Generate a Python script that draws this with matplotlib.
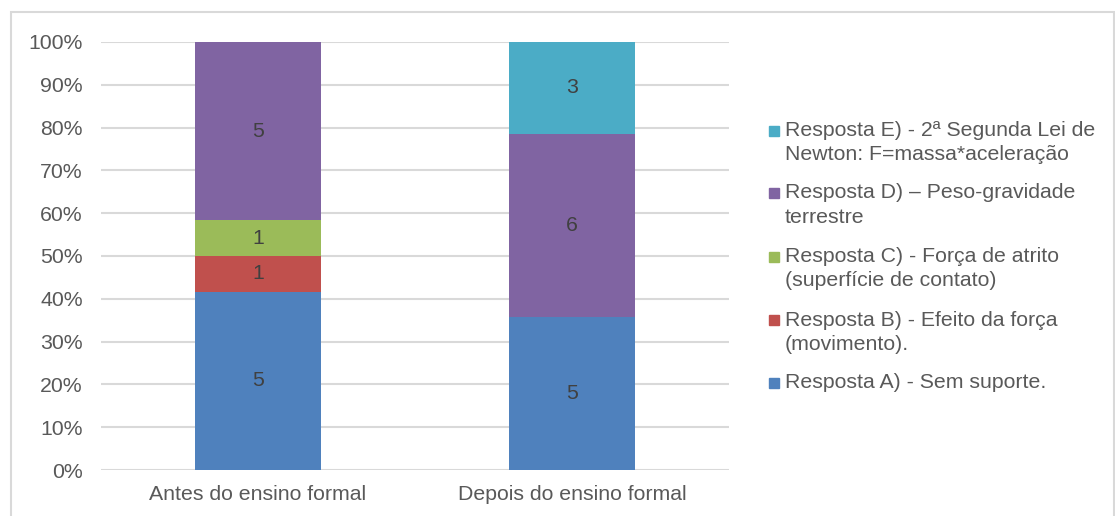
import matplotlib.pyplot as plt
import numpy as np
from matplotlib.patches import Rectangle
from matplotlib.ticker import PercentFormatter

# dados (contagem de respostas)
categorias = ["Antes do ensino formal", "Depois do ensino formal"]
series = ["A", "B", "C", "D", "E"]
resp_a = [5, 5]
resp_b = [1, 0]
resp_c = [1, 0]
resp_d = [5, 6]
resp_e = [0, 3]
legenda = [
	["Resposta A) - Sem suporte."],
	["Resposta B) - Efeito da força", "(movimento)."],
	["Resposta C) - Força de atrito", "(superfície de contato)"],
	["Resposta D) \u2013 Peso-gravidade", "terrestre"],
	["Resposta E) - 2ª Segunda Lei de", "Newton: F=massa*aceleração"],
]
cores = ["#4F81BD", "#C0504D", "#9BBB59", "#8064A2", "#4BACC6"]

plt.rcParams["font.family"] = ["Liberation Sans", "DejaVu Sans"]
TXT = "#595959"
FS = 15.3

W, H = 1115, 516
fig = plt.figure(figsize=(W / 100, H / 100), dpi=100)
ax = fig.add_axes([101 / W, 1 - 470 / H, (729 - 101) / W, (470 - 42) / H])

valores = np.array([resp_a, resp_b, resp_c, resp_d, resp_e], dtype=float)
totais = valores.sum(axis=0)
fracs = valores / totais

x = np.arange(len(categorias))
base = np.zeros(len(categorias))
for i, nome in enumerate(series):
	bars = ax.bar(x, fracs[i], 0.4, bottom=base, color=cores[i], linewidth=0, zorder=3)
	rotulos = [f"{int(v)}" if v > 0 else "" for v in valores[i]]
	ax.bar_label(bars, labels=rotulos, label_type="center", color="#404040", fontsize=FS)
	base += fracs[i]

ax.set_xlim(-0.5, 1.5)
ax.set_ylim(0, 1)
ax.set_yticks(np.arange(0, 1.01, 0.1))
ax.yaxis.set_major_formatter(PercentFormatter(1.0, decimals=0))
ax.set_xticks(x)
ax.set_xticklabels(categorias)
ax.tick_params(axis="y", length=0, pad=13, labelsize=FS, labelcolor=TXT)
ax.tick_params(axis="x", length=0, pad=11, labelsize=FS, labelcolor=TXT)
ax.grid(axis="y", color="#D9D9D9", linewidth=1.5, zorder=0)
for s in ax.spines.values():
	s.set_visible(False)

# legenda manual (ordem invertida, marcador alinhado à primeira linha)
y_topo = [383, 320, 257, 193, 131]
for i in range(len(series)):
	y0 = y_topo[i]
	fig.patches.append(Rectangle((769 / W, 1 - (y0 + 5) / H), 10 / W, 10 / H,
		transform=fig.transFigure, color=cores[i], figure=fig))
	for k, linha in enumerate(legenda[i]):
		fig.text(785 / W, 1 - (y0 + 24 * k) / H, linha, fontsize=FS, color=TXT, va="center", ha="left")

# moldura do gráfico
fig.patches.append(Rectangle((11 / W, -0.1), (1114 - 11) / W, 1.1 - 12 / H,
	transform=fig.transFigure, fill=False, edgecolor="#D9D9D9", linewidth=1.5, figure=fig))

fig.savefig("out.png", dpi=100)
